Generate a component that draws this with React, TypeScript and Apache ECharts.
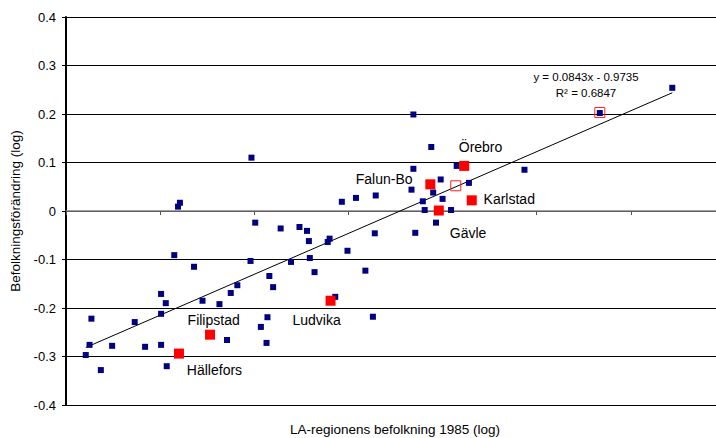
import React, { useEffect, useRef } from "react";
import * as echarts from "echarts";

// LA-regions: population 1985 (log) vs population change (log)
const regionX = [
  8.21, 8.25, 8.27, 8.37, 8.49, 8.73, 8.84, 9.01, 9.06, 9.01, 9.01, 9.07, 9.15, 9.19, 9.21,
  9.36, 9.45, 9.63, 9.71, 9.75, 9.82, 9.96, 9.97, 10.01, 10.07, 10.14, 10.13, 10.16, 10.2,
  10.28, 10.39, 10.48, 10.56, 10.58, 10.59, 10.64, 10.78, 10.8, 10.86, 10.93, 10.99, 11.08,
  11.18, 11.26, 11.28, 11.29, 11.67, 11.69, 11.69, 11.71, 11.79, 11.81, 11.88, 11.9, 11.93,
  11.98, 12.0, 12.09, 12.15, 12.28, 12.87, 13.67, 14.44,
];
const regionY = [
  -0.297, -0.276, -0.222, -0.328, -0.278, -0.229, -0.28, -0.171, -0.19, -0.212, -0.276, -0.32,
  -0.091, 0.009, 0.017, -0.115, -0.185, -0.192, -0.266, -0.169, -0.153, -0.103, 0.11, -0.024,
  -0.239, -0.219, -0.272, -0.134, -0.157, -0.036, -0.105, -0.033, -0.041, -0.062, -0.097,
  -0.126, -0.064, -0.057, -0.177, 0.019, -0.082, 0.027, -0.123, -0.218, -0.046, 0.032, 0.044,
  0.199, 0.087, -0.045, 0.02, 0.002, 0.132, 0.038, -0.024, 0.065, 0.025, 0.002, 0.093, 0.058,
  0.085, 0.202, 0.254,
];

const highlightNames = ["Hällefors", "Filipstad", "Ludvika", "Falun-Bo", "Örebro", "Karlstad", "Gävle"];
const highlightX = [9.2, 9.53, 10.81, 11.87, 12.23, 12.31, 11.96];
const highlightY = [-0.294, -0.255, -0.185, 0.055, 0.093, 0.022, 0.001];

const markedX = [12.14, 13.67];
const markedY = [0.052, 0.203];

const trendSlope = 0.0843;
const trendIntercept = -0.9735;
const rSquared = 0.6847;

const yAxisTitle = "Befolkningsförändring (log)";
const xAxisTitle = "LA-regionens befolkning 1985 (log)";

// label placement (style only), relative to the marker centre
const labelOffsets: Record<string, [number, number]> = {
  "Hällefors": [35.5, 16.6],
  "Filipstad": [3.6, -15],
  "Ludvika": [-14, 19],
  "Falun-Bo": [-46.2, -5.2],
  "Örebro": [16.3, -19],
  "Karlstad": [37.5, -1.3],
  "Gävle": [29.3, 22.5],
};

const FONT = "'Liberation Sans', Arial, Helvetica, sans-serif";

export default function App() {
  const ref = useRef<HTMLDivElement>(null);

  useEffect(() => {
    if (!ref.current) return;
    const chart = echarts.init(ref.current, undefined, { renderer: "svg" });

    const allX = regionX.concat(highlightX);
    const xMin = Math.min(...allX);
    const xMax = Math.max(...allX);
    const trendData = [
      [xMin, trendSlope * xMin + trendIntercept],
      [xMax, trendSlope * xMax + trendIntercept],
    ];

    const fmt = (v: number) => (v < 0 ? "- " : "+ ");

    chart.setOption({
      animation: false,
      backgroundColor: "#ffffff",
      textStyle: { fontFamily: FONT },
      grid: { left: 66, top: 17, width: 659, height: 388, containLabel: false },
      xAxis: {
        type: "value",
        min: 8,
        max: 15,
        interval: 1,
        axisLine: { show: true, onZero: true, lineStyle: { color: "#808080", width: 1.5 } },
        axisTick: { show: true, length: 4, lineStyle: { color: "#555555", width: 1 } },
        axisLabel: { show: false },
        splitLine: { show: false },
      },
      yAxis: {
        type: "value",
        min: -0.4,
        max: 0.4,
        interval: 0.1,
        name: yAxisTitle,
        nameLocation: "middle",
        nameGap: 43,
        nameTextStyle: { fontSize: 13.5, color: "#000", fontFamily: FONT },
        axisLine: { show: true, onZero: false, lineStyle: { color: "#000", width: 2 } },
        axisTick: { show: true, length: 4, lineStyle: { color: "#000", width: 1 } },
        axisLabel: { fontSize: 13, color: "#000", margin: 10, fontFamily: FONT },
        splitLine: { show: true, lineStyle: { color: "#000", width: 1 } },
      },
      graphic: [
        {
          type: "text",
          x: 395,
          y: 429,
          style: {
            text: xAxisTitle,
            fill: "#000",
            fontSize: 13.5,
            fontFamily: FONT,
            align: "center",
            verticalAlign: "middle",
          },
        },
        {
          type: "text",
          x: 586,
          y: 77,
          style: {
            text: `y = ${trendSlope}x ${fmt(trendIntercept)}${Math.abs(trendIntercept)}`,
            fill: "#000",
            fontSize: 11.5,
            fontFamily: FONT,
            align: "center",
            verticalAlign: "middle",
          },
        },
        {
          type: "text",
          x: 586,
          y: 93,
          style: {
            text: `R² = ${rSquared}`,
            fill: "#000",
            fontSize: 11.5,
            fontFamily: FONT,
            align: "center",
            verticalAlign: "middle",
          },
        },
      ],
      series: [
        {
          type: "line",
          data: trendData,
          symbol: "none",
          lineStyle: { color: "#000", width: 1 },
          z: 2,
        },
        {
          type: "scatter",
          data: regionX.map((x, i) => [x, regionY[i]]),
          symbol: "rect",
          symbolSize: 6,
          itemStyle: { color: "#000080", opacity: 1 },
          z: 3,
        },
        {
          type: "scatter",
          data: highlightX.map((x, i) => ({
            name: highlightNames[i],
            value: [x, highlightY[i]],
            label: {
              show: true,
              position: "inside",
              offset: labelOffsets[highlightNames[i]],
              formatter: "{b}",
              color: "#000",
              fontSize: 14,
              fontFamily: FONT,
            },
          })),
          symbol: "rect",
          symbolSize: 10,
          itemStyle: { color: "#ff0000", opacity: 1 },
          z: 4,
        },
        {
          type: "scatter",
          data: markedX.map((x, i) => [x, markedY[i]]),
          symbol: "rect",
          symbolSize: 10,
          itemStyle: { color: "transparent", borderColor: "#ff2020", borderWidth: 1, opacity: 1 },
          z: 5,
        },
      ],
    });

    return () => chart.dispose();
  }, []);

  return (
    <div
      style={{
        position: "absolute",
        left: 0,
        top: 0,
        width: 716,
        height: 438,
        overflow: "hidden",
        background: "#fff",
      }}
    >
      <div ref={ref} style={{ width: 730, height: 438 }} />
    </div>
  );
}
